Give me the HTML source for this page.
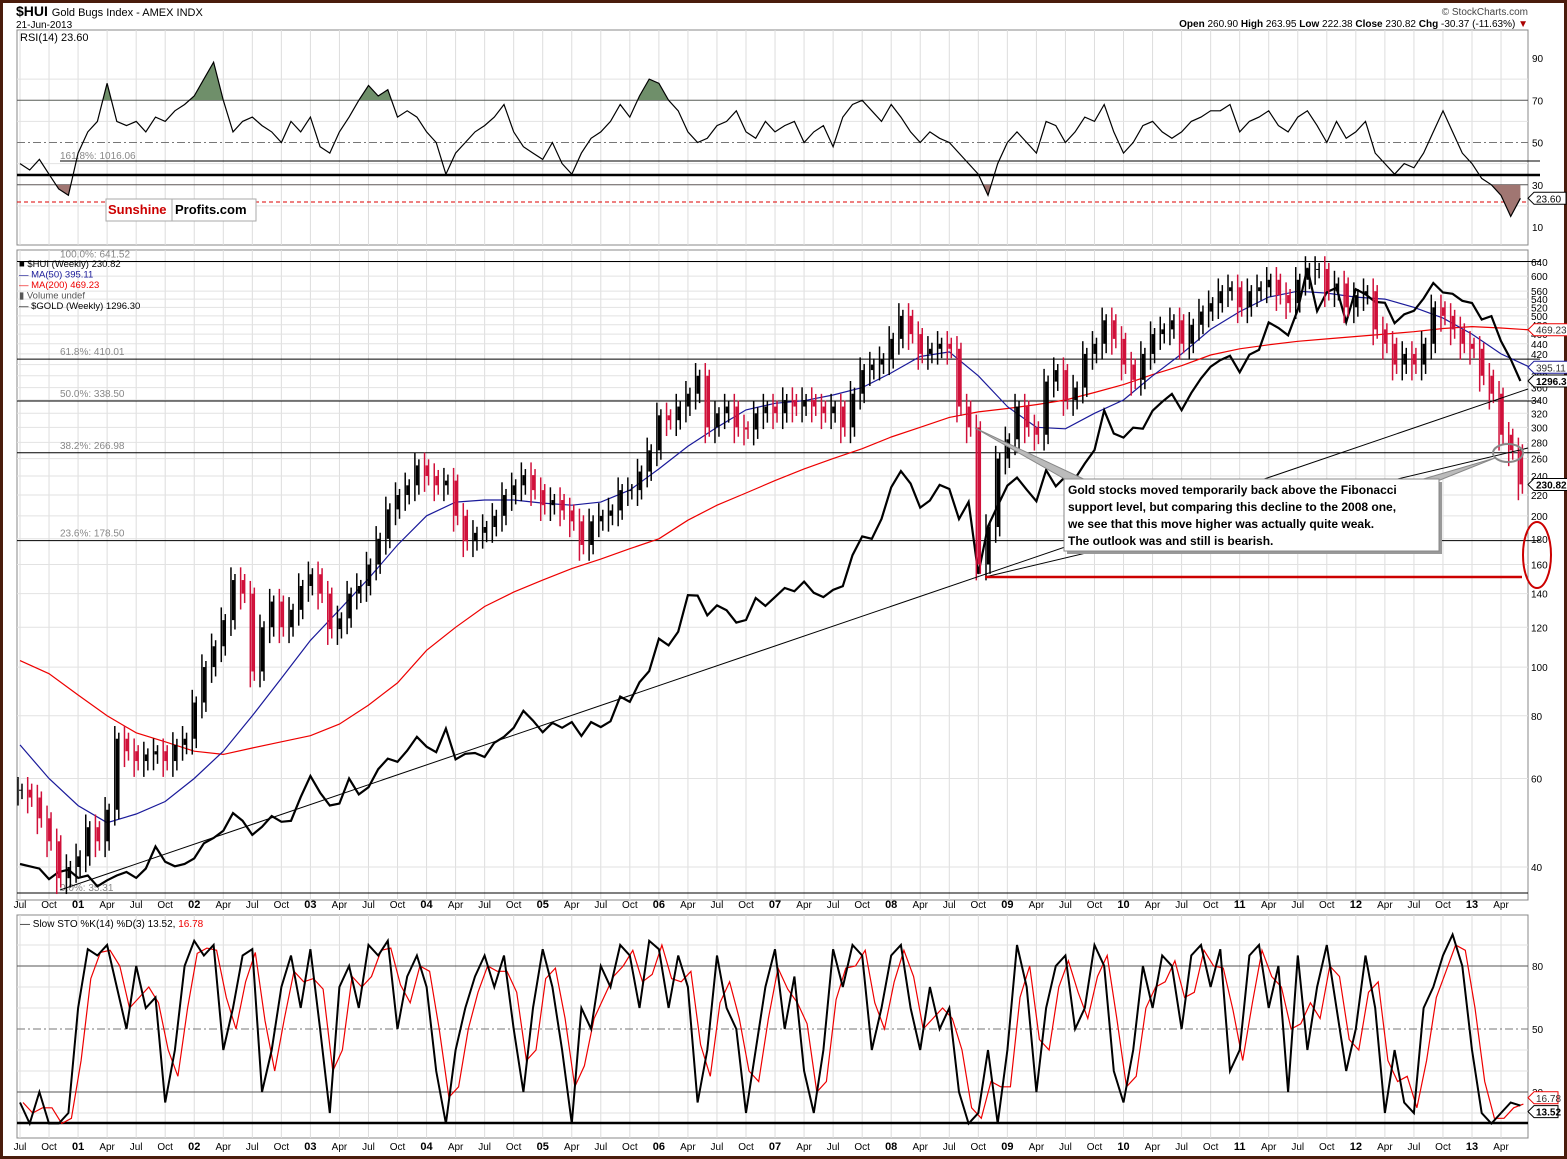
<!DOCTYPE html>
<html><head><meta charset="utf-8">
<style>
body{margin:0;background:#fff;}
svg{display:block;font-family:"Liberation Sans",sans-serif;}
</style></head>
<body>
<svg id="c" width="1567" height="1159" viewBox="0 0 1567 1159" xmlns="http://www.w3.org/2000/svg">
<rect x="0" y="0" width="1567" height="1159" fill="#fff"/>
<rect x="1.5" y="1.5" width="1564" height="1156" fill="none" stroke="#4a1c0c" stroke-width="3"/>
<text x="16" y="16" font-size="14" font-weight="bold">$HUI <tspan font-size="11" font-weight="normal">Gold Bugs Index - AMEX  INDX</tspan></text>
<text x="16" y="28" font-size="10">21-Jun-2013</text>
<text x="1528" y="15" font-size="10" fill="#444" text-anchor="end">© StockCharts.com</text>
<text x="1528" y="27" font-size="10" text-anchor="end"><tspan font-weight="bold">Open</tspan> 260.90  <tspan font-weight="bold">High</tspan> 263.95  <tspan font-weight="bold">Low</tspan> 222.38  <tspan font-weight="bold">Close</tspan> 230.82  <tspan font-weight="bold">Chg</tspan> -30.37 (-11.63%) <tspan fill="#a00">▼</tspan></text>
<g id="g"></g>
</svg>
<script>
// ---- data (monthly from Jul 2000) ----
const hui = [57,55,50,45,38,40,
42,48,45,52,72,68,65,67,68,65,70,72,
85,100,110,124,149,140,98,120,135,120,130,145,
153,140,119,125,140,145,160,180,206,220,230,252,
240,230,235,200,178,185,190,200,220,230,241,225,
210,215,205,195,175,195,200,205,225,225,245,270,
317,310,330,350,380,300,320,330,300,297,320,330,
320,340,330,340,330,320,330,300,350,390,400,410,
450,500,460,420,430,440,430,330,300,160,190,260,
284,330,300,290,370,390,340,360,420,440,490,450,
400,373,420,460,470,490,440,480,510,530,560,570,
520,560,570,590,550,530,590,620,620,560,580,520,
550,560,470,440,400,420,400,440,520,500,470,440,
430,380,350,290,270,231];
const gold = [277,275,273,264,270,272,
265,267,258,263,267,270,265,273,293,279,275,277,
282,296,301,308,326,318,304,312,323,317,318,343,
367,348,334,336,364,346,354,375,388,384,398,416,
403,396,427,387,394,395,390,408,416,428,452,438,
422,435,428,436,417,436,429,437,473,465,495,513,
569,557,582,654,653,613,633,623,599,604,648,632,
650,669,662,683,659,650,665,673,743,789,783,834,
923,972,934,865,885,930,918,834,881,700,815,870,
928,952,916,883,975,926,955,949,996,1040,1180,1096,
1082,1117,1113,1179,1213,1244,1181,1248,1307,1357,1386,1405,
1333,1410,1432,1563,1536,1500,1628,1860,1620,1722,1746,1564,
1738,1710,1669,1664,1559,1604,1622,1687,1773,1720,1713,1675,
1663,1578,1595,1472,1390,1296.3];
// quarterly moving averages (every 3 months from Jul 2000)
const ma50 = [70,60,53,49,51,54,60,68,80,95,113,130,150,175,200,213,215,215,212,210,213,225,248,275,300,325,335,339,348,360,385,415,424,380,330,300,298,320,340,380,420,470,510,545,560,555,545,540,520,495,460,420,395];
const ma200 = [103,97,88,80,74,71,68,67,69,71,73,77,84,93,108,120,132,141,149,157,164,172,180,196,210,222,235,248,260,272,287,300,314,322,327,333,340,352,365,382,398,418,430,438,445,450,455,460,465,472,476,473,469];
const rsi = [40,37,42,35,28,25,
45,55,60,78,60,58,60,55,62,60,65,68,
72,80,88,70,55,60,62,58,55,50,60,55,
62,48,45,55,62,70,77,72,75,62,65,62,
55,50,35,45,50,55,58,62,68,55,48,45,
42,50,40,35,45,52,55,60,68,62,72,80,
78,70,65,55,50,52,58,60,65,55,52,60,
55,58,60,50,55,58,48,62,68,70,65,60,
68,62,55,50,55,52,50,45,40,35,25,40,
50,55,50,45,60,58,50,55,62,60,68,55,
45,50,58,60,55,52,55,60,62,65,65,68,
55,60,62,65,58,55,62,65,58,50,60,52,
55,60,45,40,35,40,38,45,55,65,55,45,
40,33,30,25,15,23.6];
const stoK = [15,5,20,5,5,10,
60,88,85,90,70,50,80,60,65,15,40,80,
92,85,90,40,60,85,88,20,40,70,85,60,
88,50,10,70,80,60,90,85,92,50,75,85,
70,30,5,40,60,75,85,70,85,50,20,60,
88,70,40,5,60,50,80,70,90,85,60,92,
88,60,85,70,15,40,85,60,50,10,40,70,
88,50,75,30,10,40,88,70,90,85,40,60,
85,90,60,40,70,50,60,20,5,10,40,5,
40,90,70,20,60,80,85,50,60,90,80,30,
15,40,80,60,85,80,50,85,90,70,88,30,
40,85,90,60,80,20,85,40,70,90,60,30,
50,85,60,10,40,15,10,60,70,85,95,80,
40,10,5,10,15,13.52];
const quarterLabels = ["Jul","Oct","01","Apr","Jul","Oct","02","Apr","Jul","Oct","03","Apr","Jul","Oct","04","Apr","Jul","Oct","05","Apr","Jul","Oct","06","Apr","Jul","Oct","07","Apr","Jul","Oct","08","Apr","Jul","Oct","09","Apr","Jul","Oct","10","Apr","Jul","Oct","11","Apr","Jul","Oct","12","Apr","Jul","Oct","13","Apr"];
const priceTicks = [640,600,560,540,520,500,480,460,440,420,400,380,360,340,320,300,280,260,240,220,200,180,160,140,120,100,80,60,40];
const rsiTicks = [90,70,50,30,10];
const stoTicks = [80,50,20];
const fibs = [[641.52,"100.0%: 641.52"],[410.01,"61.8%: 410.01"],[338.50,"50.0%: 338.50"],[266.98,"38.2%: 266.98"],[178.50,"23.6%: 178.50"]];

// ---- scales ----
const L=17,R=1528;
const xM = m => 20 + m*9.68;
const yP = v => 867 - 218.2*Math.log(v/40);
const yG = v => 381 - 313*Math.log(v/1296.3);
const yR = v => 58 + (90-v)*2.1125;
const yS = v => 1134 - v*2.1;
const NS="http://www.w3.org/2000/svg";
const g=document.getElementById('g');
function el(tag,attrs,parent){const e=document.createElementNS(NS,tag);for(const k in attrs)e.setAttribute(k,attrs[k]);(parent||g).appendChild(e);return e;}
function txt(x,y,s,attrs,parent){const e=el('text',Object.assign({x:x,y:y},attrs),parent);e.textContent=s;return e;}
function path(pts){return pts.map((p,i)=>(i?'L':'M')+p[0].toFixed(1)+' '+p[1].toFixed(1)).join('');}

// panels
const panels=[[30,245,'rsi-panel'],[250,900,'price-panel'],[915,1138,'stoch-panel']];
panels.forEach(p=>{
  const r=el('rect',{x:L,y:p[0],width:R-L,height:p[1]-p[0],fill:'#fff',stroke:'#888','stroke-width':1});
  
  
});
// vertical grid
quarterLabels.forEach((s,i)=>{
  const x=xM(i*3);
  panels.forEach(p=>{el('line',{x1:x,x2:x,y1:p[0],y2:p[1],stroke:'#ddd','stroke-width':1});});
  const isYear=/^\d/.test(s);
  [908,1150].forEach(yy=>{
    const t=txt(x,yy,s,{'font-size':isYear?11:10,'font-weight':isYear?'bold':'normal','text-anchor':'middle'});
    
    
  });
});
// price grid + ticks
priceTicks.forEach(v=>{
  const y=yP(v);
  el('line',{x1:L,x2:R,y1:y,y2:y,stroke:'#e2e2e2'});
  const t=txt(R+3,y+4,String(v),{'font-size':10});
  
  
});
[20,40,60,80].forEach(v=>{el('line',{x1:L,x2:R,y1:yR(v),y2:yR(v),stroke:'#e2e2e2'});});
rsiTicks.forEach(v=>{
  const t=txt(R+4,yR(v)+4,String(v),{'font-size':10});
  
  
});
[10,30,40,60,70,90].forEach(v=>{el('line',{x1:L,x2:R,y1:yS(v),y2:yS(v),stroke:'#e2e2e2'});});
stoTicks.forEach(v=>{
  const t=txt(R+4,yS(v)+4,String(v),{'font-size':10});
  
  
});

// RSI reference lines
el('line',{x1:L,x2:R,y1:yR(70),y2:yR(70),stroke:'#555'});
el('line',{x1:L,x2:R,y1:yR(50),y2:yR(50),stroke:'#777','stroke-dasharray':'8 3 2 3'});
el('line',{x1:L,x2:R,y1:yR(30),y2:yR(30),stroke:'#555'});
el('line',{x1:60,x2:1540,y1:161,y2:161,stroke:'#000'});
el('line',{x1:L,x2:1540,y1:175,y2:175,stroke:'#000','stroke-width':2.5});
el('line',{x1:L,x2:R,y1:202,y2:202,stroke:'#d00','stroke-dasharray':'4 3'});
txt(60,159,'161.8%: 1016.06',{'font-size':10,fill:'#888'});
// RSI fills
const rsiPts=rsi.map((v,i)=>[xM(i),yR(v)]);
let clipId=0;
function fillBand(level,above,color){
  const d=path(rsiPts)+`L${xM(rsi.length-1)} ${yR(level)}L${xM(0)} ${yR(level)}Z`;
  const cp=el('clipPath',{id:'cp'+(++clipId)});
  el('rect',above?{x:L,y:30,width:R-L,height:yR(level)-30}:{x:L,y:yR(level),width:R-L,height:245-yR(level)},cp);
  const f=el('path',{d:d,fill:color,'clip-path':`url(#cp${clipId})`});
  
  
}
fillBand(70,true,'#6f8f6a');
fillBand(30,false,'#a07672');
const rl=el('path',{d:path(rsiPts),fill:'none',stroke:'#000','stroke-width':1.2});


txt(20,41,'RSI(14) 23.60',{'font-size':11});
el('polygon',{points:`${R},${yR(23.6)} ${R+6},${yR(23.6)-6} ${R+38},${yR(23.6)-6} ${R+38},${yR(23.6)+6} ${R+6},${yR(23.6)+6}`,fill:'#fff',stroke:'#000'});
txt(R+8,yR(23.6)+4,'23.60',{'font-size':10});
// logo
const lg=el('g',{});


el('rect',{x:106,y:199,width:150,height:22,fill:'#fff',stroke:'#aaa'},lg);
el('line',{x1:172,x2:172,y1:199,y2:221,stroke:'#aaa'},lg);
txt(108,214,'Sunshine',{'font-size':13,'font-weight':'bold',fill:'#c00'},lg);
txt(175,214,'Profits.com',{'font-size':13,'font-weight':'bold',fill:'#000'},lg);

// fib lines in price panel
fibs.forEach(f=>{
  const y=yP(f[0]);
  el('line',{x1:L,x2:1540,y1:y,y2:y,stroke:'#000'});
  const t=txt(60,y-4,f[1],{'font-size':10,fill:'#888'});
  
  
});
el('line',{x1:L,x2:R,y1:893,y2:893,stroke:'#000'});
txt(60,891,'0.0%: 35.31',{'font-size':10,fill:'#888'});

// MA lines
const ma200l=el('path',{d:path(ma200.map((v,i)=>[xM(i*3),yP(v)])),fill:'none',stroke:'#e00','stroke-width':1.2});


const ma50l=el('path',{d:path(ma50.map((v,i)=>[xM(i*3),yP(v)])),fill:'none',stroke:'#1a1a9a','stroke-width':1.2});


// gold line
const gl=el('path',{d:path(gold.map((v,i)=>[xM(i),yG(v)])),fill:'none',stroke:'#000','stroke-width':2.2});


// HUI bars
hui.forEach((v,i)=>{
  const prev=i?hui[i-1]:v;
  const col=v<prev?'#d0103a':'#000';
  const lo=Math.min(v,prev)*0.93, hi=Math.max(v,prev)*1.06;
  const x=xM(i);
  const b=el('line',{x1:x-2,x2:x-2,y1:yP(hi),y2:yP(lo),stroke:col,'stroke-width':1.5});
  
  
  const b2=el('line',{x1:x+2,x2:x+2,y1:yP(hi*0.97),y2:yP(lo*1.03),stroke:col,'stroke-width':1.5});
  
  
  el('rect',{x:x-1,y:yP(Math.max(v,prev)),width:2.5,height:Math.max(1,yP(Math.min(v,prev))-yP(Math.max(v,prev))),fill:col});
});
// trend lines & annotations
el('line',{x1:60,y1:890,x2:R,y2:389,stroke:'#000','stroke-width':1});
el('line',{x1:985,y1:577,x2:R,y2:448,stroke:'#000','stroke-width':1});
el('line',{x1:985,y1:577,x2:1522,y2:577,stroke:'#c00','stroke-width':2.5});
el('ellipse',{cx:1537,cy:555,rx:14,ry:33,fill:'none',stroke:'#c00','stroke-width':2});
el('ellipse',{cx:1508,cy:453,rx:15,ry:9,fill:'none',stroke:'#888','stroke-width':2});
el('polygon',{points:'975,428 1070,482 1090,482',fill:'#bbb',stroke:'#888'});
el('polygon',{points:'1495,458 1420,480 1440,480',fill:'#bbb',stroke:'#888'});
const box=el('g',{});


el('rect',{x:1067,y:482,width:375,height:72,fill:'#999'},box);
el('rect',{x:1064,y:479,width:375,height:72,fill:'#fff',stroke:'#888'},box);
['Gold stocks moved temporarily back above the Fibonacci','support level, but comparing this decline to the 2008 one,','we see that this move higher was actually quite weak.','The outlook was and still is bearish.'].forEach((s,i)=>{
  txt(1068,494+i*17,s,{'font-size':12,'font-weight':'bold'},box);
});
// price legend
const leg=[['■ $HUI (Weekly) 230.82','#000'],['— MA(50) 395.11','#1a1a9a'],['— MA(200) 469.23','#e00'],['▮ Volume undef','#555'],['— $GOLD (Weekly) 1296.30','#000']];
leg.forEach((l,i)=>{
  const t=txt(19,267+i*10.5,l[0],{'font-size':9.5,fill:l[1]});
  
  
});
// right value tags
function tag(y,s,col,w){
  el('polygon',{points:`${R},${y} ${R+6},${y-6} ${R+w},${y-6} ${R+w},${y+6} ${R+6},${y+6}`,fill:'#fff',stroke:col});
  txt(R+8,y+4,s,{'font-size':10,fill:col==='#000'?'#000':'#333','font-weight':col==='#000'?'bold':'normal'});
}
tag(yP(469.23),'469.23','#e00',40);tag(yP(395.11),'395.11','#1a1a9a',40);
tag(yG(1296.3),'1296.30','#000',40);tag(yP(230.82),'230.82','#000',40);

// Stochastics
el('line',{x1:L,x2:R,y1:yS(80),y2:yS(80),stroke:'#555'});
el('line',{x1:L,x2:R,y1:yS(50),y2:yS(50),stroke:'#777','stroke-dasharray':'8 3 2 3'});
el('line',{x1:L,x2:R,y1:yS(20),y2:yS(20),stroke:'#555'});
el('line',{x1:L,x2:R,y1:1123,y2:1123,stroke:'#000','stroke-width':2.5});
const stoD=stoK.map((v,i)=>{const a=stoK.slice(Math.max(0,i-1),i+1);return a.reduce((s,x)=>s+x,0)/a.length;});
const dl=el('path',{d:path(stoD.map((v,i)=>[xM(i)+3,yS(v)])),fill:'none',stroke:'#e00','stroke-width':1.2});


const kl=el('path',{d:path(stoK.map((v,i)=>[xM(i),yS(v)])),fill:'none',stroke:'#000','stroke-width':2});


const st=txt(20,927,'— Slow STO %K(14) %D(3) 13.52, ',{'font-size':10});
const sp=document.createElementNS(NS,'tspan');sp.setAttribute('fill','#e00');sp.textContent='16.78';st.appendChild(sp);
tag(yS(16.78)-1,'16.78','#e00',30);tag(yS(13.52)+6,'13.52','#000',30);
</script>
</body></html>
